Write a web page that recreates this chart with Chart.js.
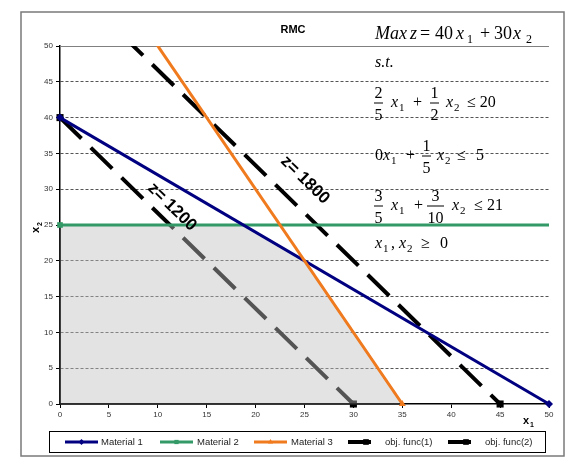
<!DOCTYPE html>
<html>
<head>
<meta charset="utf-8">
<script src="https://cdn.jsdelivr.net/npm/chart.js@4.4.1/dist/chart.umd.min.js"></script>
<style>
  html, body { margin: 0; padding: 0; background: #fff; }
  #wrap { width: 571px; height: 466px; position: relative; }
</style>
</head>
<body>
<div id="wrap"><canvas id="c" width="571" height="466"></canvas></div>
<script>
// series data (x1, x2) pairs
const seriesNames = ['Material 1', 'Material 2', 'Material 3', 'obj. func(1)', 'obj. func(2)'];
const material1 = [[0, 40], [50, 0]];
const material2 = [[0, 25], [50, 25]];
const material3 = [[0, 70], [35, 0]];
const objFunc1 = [[0, 40], [30, 0]];
const objFunc2 = [[0, 60], [45, 0]];
const feasible = [[0, 0], [0, 25], [18.75, 25], [25, 20], [35, 0], [0, 0]];
const zLabels = ['z= 1200', 'z= 1800'];
const axisMin = 0, axisMax = 50, axisStep = 5;

const NAVY = '#000080', GREEN = '#339966', ORANGE = '#f07a1e', BLACK = '#000';
const SERIF = '"Liberation Serif", "Times New Roman", serif';
const SANS = '"Liberation Sans", Arial, sans-serif';

const pts = arr => arr.map(p => ({ x: p[0], y: p[1] }));

function lineSet(label, data, color, style, opts) {
    return Object.assign({
        label: label,
        data: pts(data),
        showLine: true,
        borderColor: color,
        backgroundColor: color,
        borderWidth: 3,
        pointStyle: style,
        pointRadius: 4,
        pointBorderWidth: 0,
        fill: false,
        clip: false
    }, opts || {});
}

// little helpers for the formula text
function put(ctx, s, x, y, size, italic) {
    ctx.font = (italic ? 'italic ' : '') + size + 'px ' + SERIF;
    ctx.fillText(s, x, y);
}
function sub(ctx, s, x, y) {
    put(ctx, s, x, y + 4, 11, false);
}
function frac(ctx, n, d, x, y) {
    ctx.font = '16px ' + SERIF;
    const w = Math.max(ctx.measureText(n).width, ctx.measureText(d).width) + 1;
    const bar = y - 4;
    ctx.textAlign = 'center';
    ctx.fillText(n, x + w / 2, bar - 5);
    ctx.fillText(d, x + w / 2, bar + 17);
    ctx.textAlign = 'left';
    ctx.fillRect(x, bar - 0.5, w, 1);
}

const decorations = {
    id: 'decorations',
    beforeDatasetsDraw(chart) {
        const { ctx, chartArea: a } = chart;
        ctx.save();
        ctx.strokeStyle = '#808080';
        ctx.lineWidth = 1;
        ctx.beginPath();
        ctx.moveTo(a.left, a.top + 0.5);
        ctx.lineTo(a.right, a.top + 0.5);
        ctx.stroke();
        ctx.restore();
    },
    afterDraw(chart) {
        const { ctx } = chart;
        const xs = chart.scales.x, ys = chart.scales.y;
        ctx.save();

        // outer frame
        ctx.strokeStyle = '#7a7a7a';
        ctx.lineWidth = 1.5;
        ctx.strokeRect(21, 12, 543, 444);

        // title
        ctx.fillStyle = '#000';
        ctx.font = 'bold 11px ' + SANS;
        ctx.textAlign = 'center';
        ctx.textBaseline = 'alphabetic';
        ctx.fillText('RMC', 293, 33);

        // axis titles
        ctx.textAlign = 'left';
        ctx.font = 'bold 11px ' + SANS;
        ctx.fillText('x', 523, 424);
        ctx.font = 'bold 7px ' + SANS;
        ctx.fillText('1', 530, 427);
        ctx.save();
        ctx.translate(39, 233);
        ctx.rotate(-Math.PI / 2);
        ctx.font = 'bold 11px ' + SANS;
        ctx.fillText('x', 0, 0);
        ctx.font = 'bold 7px ' + SANS;
        ctx.fillText('2', 7, 3);
        ctx.restore();

        // z labels rotated along the objective lines
        const zLines = [[objFunc1, 172, 207], [objFunc2, 305, 180]];
        ctx.font = 'bold 17px ' + SANS;
        ctx.textAlign = 'center';
        ctx.textBaseline = 'middle';
        zLines.forEach((z, i) => {
            const ln = z[0];
            const dx = xs.getPixelForValue(ln[1][0]) - xs.getPixelForValue(ln[0][0]);
            const dy = ys.getPixelForValue(ln[1][1]) - ys.getPixelForValue(ln[0][1]);
            ctx.save();
            ctx.translate(z[1], z[2]);
            ctx.rotate(Math.atan2(dy, dx));
            ctx.fillText(zLabels[i], 0, 0);
            ctx.restore();
        });

        // model text
        ctx.textAlign = 'left';
        ctx.textBaseline = 'alphabetic';
        put(ctx, 'Max', 375, 39, 18, true);
        put(ctx, 'z', 410, 39, 18, true);
        put(ctx, '=', 420, 39, 18, false);
        put(ctx, '40', 435, 39, 18, false);
        put(ctx, 'x', 456, 39, 18, true);
        put(ctx, '1', 467, 43, 12, false);
        put(ctx, '+', 480, 39, 18, false);
        put(ctx, '30', 494, 39, 18, false);
        put(ctx, 'x', 513, 39, 18, true);
        put(ctx, '2', 526, 43, 12, false);

        put(ctx, 's.t.', 375, 67, 16, true);

        frac(ctx, '2', '5', 374, 107);
        put(ctx, 'x', 391, 107, 16, true); sub(ctx, '1', 399, 107);
        put(ctx, '+', 413, 107, 16, false);
        frac(ctx, '1', '2', 430, 107);
        put(ctx, 'x', 446, 107, 16, true); sub(ctx, '2', 454, 107);
        put(ctx, '\u2264 20', 467, 107, 16, false);

        put(ctx, '0', 375, 160, 16, false);
        put(ctx, 'x', 383, 160, 16, true); sub(ctx, '1', 391, 160);
        put(ctx, '+', 406, 160, 16, false);
        frac(ctx, '1', '5', 422, 160);
        put(ctx, 'x', 437, 160, 16, true); sub(ctx, '2', 445, 160);
        put(ctx, '\u2264', 457, 160, 16, false);
        put(ctx, '5', 476, 160, 16, false);

        frac(ctx, '3', '5', 374, 210);
        put(ctx, 'x', 391, 210, 16, true); sub(ctx, '1', 399, 210);
        put(ctx, '+', 414, 210, 16, false);
        frac(ctx, '3', '10', 427, 210);
        put(ctx, 'x', 452, 210, 16, true); sub(ctx, '2', 460, 210);
        put(ctx, '\u2264', 474, 210, 16, false);
        put(ctx, '21', 487, 210, 16, false);

        put(ctx, 'x', 375, 248, 16, true); sub(ctx, '1', 383, 248);
        put(ctx, ',', 391, 248, 16, false);
        put(ctx, 'x', 399, 248, 16, true); sub(ctx, '2', 407, 248);
        put(ctx, '\u2265', 421, 248, 16, false);
        put(ctx, '0', 440, 248, 16, false);

        // legend
        ctx.strokeStyle = '#000';
        ctx.lineWidth = 1;
        ctx.strokeRect(49.5, 431.5, 496, 21);
        const lx = [65, 160, 254, 348, 448];
        const lw = [33, 33, 33, 23, 23];
        const tx = [101, 197, 291, 385, 485];
        const ly = 442;
        ctx.font = '9.5px ' + SANS;
        ctx.textBaseline = 'middle';
        seriesNames.forEach((name, i) => {
            const ds = chart.data.datasets[i];
            ctx.strokeStyle = ds.borderColor;
            ctx.fillStyle = ds.borderColor;
            ctx.lineWidth = i < 3 ? 3 : 4;
            ctx.beginPath();
            ctx.moveTo(lx[i], ly);
            ctx.lineTo(lx[i] + lw[i], ly);
            ctx.stroke();
            const mx = i < 3 ? lx[i] + lw[i] / 2 : lx[i] + lw[i] - 5;
            Chart.helpers.drawPoint(ctx, { pointStyle: ds.pointStyle, radius: i < 3 ? 3 : 4, rotation: 0, borderWidth: 0 }, mx, ly);
            ctx.fillStyle = '#222';
            ctx.fillText(name, tx[i], ly);
        });

        ctx.restore();
    }
};

const ctx = document.getElementById('c');

new Chart(ctx, {
    type: 'scatter',
    data: {
        datasets: [
            lineSet(seriesNames[0], material1, NAVY, 'rectRot', { order: 2 }),
            lineSet(seriesNames[1], material2, GREEN, 'rect', { order: 3, pointRadius: [4, 0] }),
            lineSet(seriesNames[2], material3, ORANGE, 'triangle', { order: 1, clip: { left: 10, right: 10, top: 0, bottom: 10 } }),
            lineSet(seriesNames[3], objFunc1, BLACK, 'rect', { order: 6, borderWidth: 4, borderDash: [30, 13], pointRadius: 5 }),
            lineSet(seriesNames[4], objFunc2, BLACK, 'rect', { order: 4, borderWidth: 4, borderDash: [30, 13], pointRadius: 5, clip: { left: 10, right: 10, top: 0, bottom: 10 } }),
            {
                label: 'feasible',
                data: pts(feasible),
                showLine: true,
                borderColor: '#222',
                borderWidth: 1.5,
                backgroundColor: 'rgba(192, 192, 192, 0.44)',
                fill: 'shape',
                pointRadius: 0,
                order: 5,
                clip: false
            }
        ]
    },
    options: {
        responsive: false,
        animation: false,
        events: [],
        layout: { padding: { top: 46, right: 22, left: 0, bottom: 0 } },
        plugins: {
            legend: { display: false },
            tooltip: { enabled: false }
        },
        scales: {
            x: {
                type: 'linear',
                min: axisMin,
                max: axisMax,
                afterFit: s => { s.height = 62; },
                ticks: { stepSize: axisStep, color: '#333', font: { family: SANS, size: 8 }, padding: 2, maxRotation: 0 },
                grid: { drawOnChartArea: false, drawTicks: true, tickLength: 4, tickColor: '#000' },
                border: { color: '#000', width: 1.5 }
            },
            y: {
                type: 'linear',
                min: axisMin,
                max: axisMax,
                afterFit: s => { s.width = 60; },
                ticks: { stepSize: axisStep, color: '#333', font: { family: SANS, size: 8 }, padding: 3 },
                grid: {
                    color: c => (c.tick.value === 0 || c.tick.value === 50) ? 'rgba(0,0,0,0)' : '#555',
                    lineWidth: 1,
                    tickLength: 4,
                    tickColor: '#000'
                },
                border: { color: '#000', width: 1.5, dash: [3, 2] }
            }
        }
    },
    plugins: [decorations]
});
</script>
</body>
</html>
